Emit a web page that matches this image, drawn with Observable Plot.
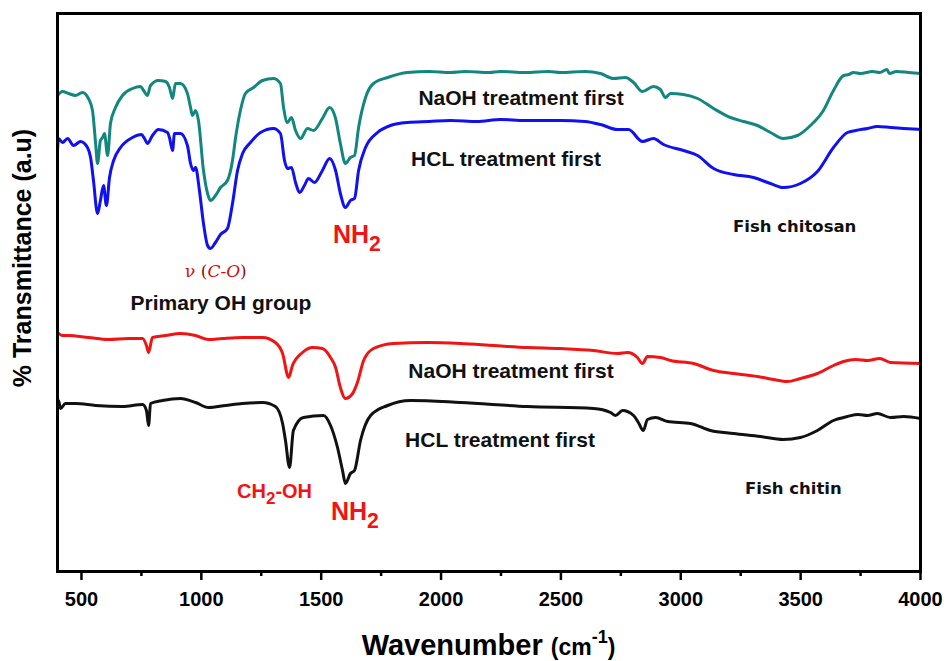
<!DOCTYPE html>
<html><head><meta charset="utf-8">
<script src="https://cdn.jsdelivr.net/npm/d3@7"></script>
<script src="https://cdn.jsdelivr.net/npm/@observablehq/plot@0.6"></script>
<style>body{margin:0;background:#fff}</style>
</head><body><div id="chart"></div>
<script>
// Wavenumber (cm-1) and transmittance (a.u., offset spectra)
const chitosanNaOH_w = [400,421,446,475,504,529,546,559,567,579,588,596,609,621,642,671,713,746,759,775,788,821,851,867,880,892,913,942,955,963,976,988,1009,1026,1038,1059,1080,1109,1130,1143,1163,1184,1218,1255,1301,1330,1343,1359,1376,1393,1414,1443,1468,1505,1535,1560,1580,1601,1622,1639,1656,1685,1718,1777,1860,1950,2039,2100,2200,2248,2350,2450,2498,2600,2665,2719,2769,2803,2840,2886,2915,2936,2957,3011,3070,3137,3207,3262,3320,3374,3428,3487,3541,3595,3637,3679,3700,3720,3750,3800,3830,3860,3870,3900,3950,4000];
const chitosanNaOH_t = [476,480,478,476,479,473,461,428,408,431,434,438,416,448,464,476,483,485,481,476,486,491,490,484,473,488,488,478,464,456,461,451,401,378,371,376,384,391,411,434,461,478,484,491,493,488,464,449,454,441,433,443,441,453,464,453,428,408,414,416,444,474,488,494,499,500,499,500,499,500,499,500,499,500,498,493,494,489,480,485,482,474,478,477,473,463,454,450,446,439,433,436,446,461,481,496,497,499,498,500,499,502,498,500,499,498];

const chitosanHCl_w = [400,404,421,442,467,496,525,538,550,567,579,592,604,617,634,663,713,750,763,775,796,821,859,867,880,888,913,942,955,967,976,992,1009,1026,1038,1059,1080,1109,1130,1151,1172,1205,1247,1301,1330,1347,1359,1376,1393,1410,1430,1447,1472,1505,1535,1560,1580,1601,1622,1639,1656,1685,1735,1789,1860,1950,2039,2150,2248,2350,2498,2600,2665,2736,2782,2840,2886,2928,3011,3070,3137,3220,3303,3374,3428,3499,3570,3637,3695,3730,3779,3820,3875,3930,4000];
const chitosanHCl_t = [421,433,429,433,426,430,424,414,391,358,371,386,366,394,411,424,434,437,433,428,436,442,439,434,421,438,438,426,408,401,404,381,348,326,323,329,337,343,368,401,418,429,439,443,438,411,403,404,389,379,386,393,389,401,413,401,378,364,371,373,401,424,439,446,449,450,451,450,452,451,451,450,447,442,442,430,433,427,421,416,403,397,394,388,384,388,400,424,439,441,443,445,444,443,442];

const chitinNaOH_w = [400,421,446,529,613,696,755,771,780,796,851,913,976,1030,1088,1172,1255,1309,1339,1364,1380,1422,1464,1505,1539,1560,1580,1601,1631,1651,1677,1718,1802,1943,2081,2219,2361,2498,2636,2736,2778,2819,2840,2861,2915,2957,3053,3137,3220,3320,3387,3445,3499,3570,3637,3679,3730,3779,3830,3875,4000];
const chitinNaOH_t = [239,236,236,234,232,233,233,226,219,234,236,238,236,232,233,234,234,229,218,194,206,219,224,223,214,204,184,173,178,189,211,223,228,229,228,226,224,223,221,218,219,214,208,215,214,211,208,201,198,195,192,190,193,198,206,210,212,211,213,209,208];

const chitinHCl_w = [400,404,413,433,475,559,671,755,771,780,788,838,913,976,1030,1101,1172,1255,1309,1339,1351,1368,1384,1426,1510,1539,1568,1589,1601,1622,1639,1664,1706,1777,1873,2081,2361,2636,2707,2728,2757,2803,2823,2844,2861,2895,2945,3041,3124,3220,3332,3428,3499,3570,3637,3695,3740,3779,3820,3875,3930,4000];
const chitinHCl_t = [163,171,163,168,168,166,165,167,161,146,168,171,173,169,164,166,168,169,165,148,131,104,141,154,156,146,124,101,88,98,101,131,156,166,171,169,165,163,159,156,161,156,149,141,152,154,150,148,141,138,135,132,134,141,151,155,157,156,158,154,155,153];

const seriesColors = ["#12867f", "#1010f0", "#f01414", "#111111"];
const majorTicks = [500,1000,1500,2000,2500,3000,3500,4000];
const minorTicks = [750,1250,1750,2250,2750,3250,3750];

// Annotation texts, anchored in data space (wavenumber, a.u.)
const annotations = [
  {w: 2336, t: 466, anchor: "middle", color: "#111", size: 21, weight: "bold", parts: [["NaOH treatment first"]]},
  {w: 2273, t: 405, anchor: "middle", color: "#111", size: 21, weight: "bold", parts: [["HCL treatment first"]]},
  {w: 1551, t: 328, anchor: "start", color: "#f01414", size: 25, weight: "bold", parts: [["NH"], ["2", "sub"]]},
  {w: 934, t: 294, anchor: "start", color: "#cc1010", size: 17, weight: "normal", family: "'DejaVu Serif', serif", parts: [["ν "], ["(", "plain"], ["C-O", "ital"], [")", "plain"]]},
  {w: 1084, t: 261, anchor: "middle", color: "#111", size: 21, weight: "bold", parts: [["Primary OH group"]]},
  {w: 3220, t: 339, anchor: "start", color: "#111", size: 16.5, weight: "bold", family: "'DejaVu Sans', sans-serif", parts: [["Fish chitosan"]]},
  {w: 2294, t: 193, anchor: "middle", color: "#111", size: 21, weight: "bold", parts: [["NaOH treatment first"]]},
  {w: 2248, t: 124, anchor: "middle", color: "#111", size: 21, weight: "bold", parts: [["HCL treatment first"]]},
  {w: 1151, t: 73, anchor: "start", color: "#f01414", size: 20, weight: "bold", parts: [["CH"], ["2", "sub"], ["-OH", "unsub"]]},
  {w: 1543, t: 51, anchor: "start", color: "#f01414", size: 25, weight: "bold", parts: [["NH"], ["2", "sub"]]},
  {w: 3270, t: 77, anchor: "start", color: "#111", size: 16.5, weight: "bold", family: "'DejaVu Sans', sans-serif", parts: [["Fish chitin"]]}
];

const toRows = (ws, ts) => ws.map((w, i) => ({w, t: ts[i]}));
const series = [
  toRows(chitosanNaOH_w, chitosanNaOH_t),
  toRows(chitosanHCl_w, chitosanHCl_t),
  toRows(chitinNaOH_w, chitinNaOH_t),
  toRows(chitinHCl_w, chitinHCl_t)
];

const W = 952, H = 661, mL = 57, mR = 32, mT = 13, mB = 90;
const chart = Plot.plot({
  width: W, height: H,
  marginLeft: mL, marginRight: mR, marginTop: mT, marginBottom: mB,
  style: "font-family: 'Liberation Sans', Arial, sans-serif; background: white; overflow: visible;",
  x: {domain: [400, 4000]},
  y: {domain: [0, 558], axis: null},
  marks: [
    ...series.map((d, i) => Plot.line(d, {x: "w", y: "t", stroke: seriesColors[i], strokeWidth: 3, strokeLinejoin: "round", curve: "monotone-x"})),
    Plot.frame({stroke: "black", strokeWidth: 3}),
    Plot.axisX({ticks: majorTicks, tickSize: 9, tickPadding: 11, strokeWidth: 2.5, fontSize: 20, fontWeight: "bold", fill: "black", tickFormat: d => String(d), label: null}),
    Plot.axisX({ticks: minorTicks, tickSize: 5, strokeWidth: 2.5, tickFormat: () => "", label: null})
  ]
});
document.getElementById("chart").appendChild(chart);

const sx = chart.scale("x"), sy = chart.scale("y");
const svg = d3.select(chart);
for (const a of annotations) {
  const t = svg.append("text")
    .attr("x", sx.apply(a.w)).attr("y", sy.apply(a.t))
    .attr("text-anchor", a.anchor)
    .attr("fill", a.color)
    .attr("font-size", a.size)
    .attr("font-weight", a.weight)
    .attr("font-family", a.family || "'Liberation Sans', Arial, sans-serif");
  for (const [s, kind] of a.parts) {
    const ts = t.append("tspan").text(s);
    if (kind === "sub") ts.attr("dy", a.size * 0.3).attr("font-size", a.size * 0.85);
    if (kind === "unsub") ts.attr("dy", -a.size * 0.3);
    if (kind === "plain") ts.attr("fill", "#8a1010");
    if (kind === "ital") ts.attr("font-style", "italic");
  }
}

// Axis titles
const xt = svg.append("text")
  .attr("x", (mL + W - mR) / 2).attr("y", 655)
  .attr("text-anchor", "middle").attr("font-weight", "bold").attr("fill", "black")
  .attr("font-family", "'Liberation Sans', Arial, sans-serif");
xt.append("tspan").attr("font-size", 29).text("Wavenumber ");
xt.append("tspan").attr("font-size", 23).text("(cm");
xt.append("tspan").attr("font-size", 18).attr("dy", -12).text("-1");
xt.append("tspan").attr("font-size", 23).attr("dy", 12).text(")");

svg.append("text")
  .attr("transform", `translate(31, 258) rotate(-90)`)
  .attr("text-anchor", "middle").attr("font-weight", "bold").attr("fill", "black")
  .attr("font-size", 25)
  .attr("font-family", "'Liberation Sans', Arial, sans-serif")
  .text("% Transmittance (a.u)");
</script>
</body></html>
